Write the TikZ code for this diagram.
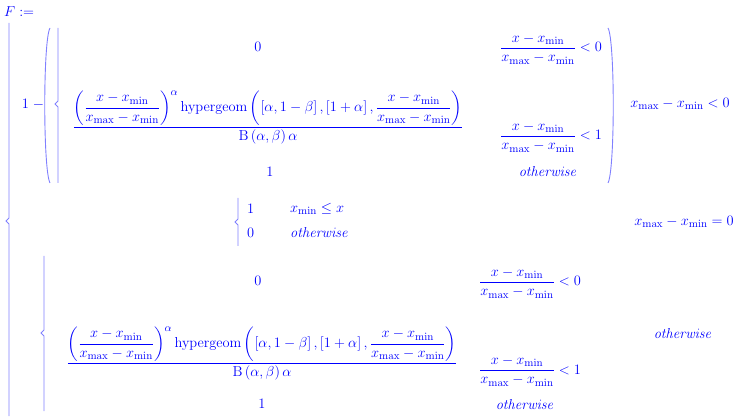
\documentclass[tikz,border=0pt]{standalone}
\usepackage{amsmath}
\begin{document}
\newcommand{\xmin}{x_{\mathrm{min}}}
\newcommand{\xmax}{x_{\mathrm{max}}}
\newcommand{\ratio}{\dfrac{x-\xmin}{\xmax-\xmin}}
\newcommand{\bigfrac}{\dfrac{\left(\ratio\right)^{\alpha}\mathrm{hypergeom}\left(\left[\alpha,1-\beta\right],\left[1+\alpha\right],\ratio\right)}{\mathrm{B}\left(\alpha,\beta\right)\alpha}}
\begin{tikzpicture}[
    x=1pt, y=-1pt,
    term/.style={
        text=blue,
        inner sep=0pt,
        font=\fontsize{15}{17}\selectfont
    },
    onbar/.style={
        term,
        anchor=base
    },
    delim/.style={
        draw=blue!50,
        line width=0.9pt
    }
]
\useasboundingbox (0,0) rectangle (738,419);

\node[term, anchor=west] (lhs) at (4,12) {$F :=$};

% outer brace
\draw[delim] (9,23) -- (9,218) -- (6,221) -- (9,224) -- (9,416);

% first case
\node[term] (one) at (33,104) {$1\;-$};
\draw[delim] (50,28) .. controls (43,40) and (43,170) .. (50,183);
\draw[delim] (58,28) -- (58,101) -- (55,104) -- (58,107) -- (58,183);
\node[term] (zeroa) at (258,47) {$0$};
\node[onbar] (conda) at (551,52) {$\ratio<0$};
\node[onbar] (fraca) at (268,131) {$\bigfrac$};
\node[onbar] (condb) at (551,140) {$\ratio<1$};
\node[term] (onea) at (270,172) {$1$};
\node[term] (othera) at (548,172) {$\mathit{otherwise}$};
\draw[delim] (608,28) .. controls (615,40) and (615,170) .. (608,183);
\node[term] (casea) at (680,104) {$\xmax-\xmin<0$};

% second case
\draw[delim] (238,198) -- (238,219) -- (235,222) -- (238,225) -- (238,246);
\node[term, anchor=west] (oneb) at (247,209) {$1$};
\node[term, anchor=west] (condc) at (290,209) {$\xmin\le x$};
\node[term, anchor=west] (zerob) at (247,233) {$0$};
\node[term, anchor=west] (otherb) at (290,233) {$\mathit{otherwise}$};
\node[term] (caseb) at (684,222) {$\xmax-\xmin=0$};

% third case
\draw[delim] (44,256) -- (44,330) -- (41,333) -- (44,336) -- (44,411);
\node[term] (zeroc) at (258,281) {$0$};
\node[onbar] (condd) at (530,286) {$\ratio<0$};
\node[onbar] (fracc) at (262,367) {$\bigfrac$};
\node[onbar] (conde) at (530,374) {$\ratio<1$};
\node[term] (onec) at (262,404) {$1$};
\node[term] (otherc) at (525,404) {$\mathit{otherwise}$};
\node[term] (casec) at (683,333) {$\mathit{otherwise}$};

\end{tikzpicture}
\end{document}
